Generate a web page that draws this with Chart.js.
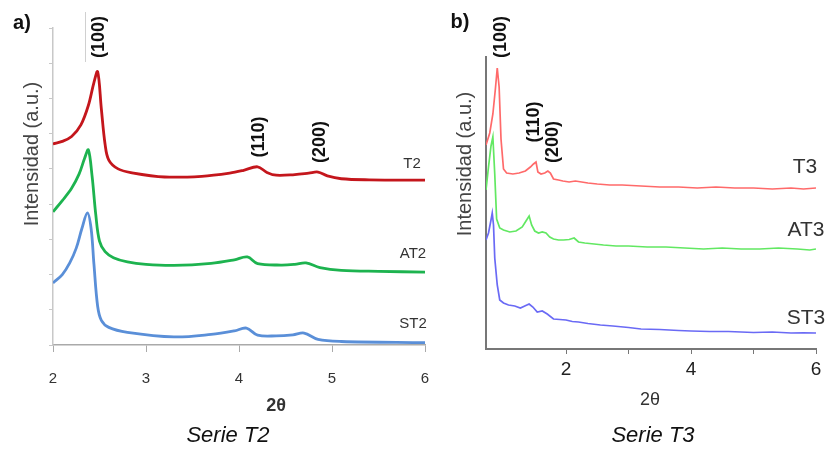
<!DOCTYPE html>
<html>
<head>
<meta charset="utf-8">
<script src="https://cdn.jsdelivr.net/npm/chart.js@4.4.0/dist/chart.umd.min.js"></script>
<style>
    body { margin: 0; background: #fff; }
    #wrap { position: relative; width: 825px; height: 450px; }
    canvas { position: absolute; top: 0; }
</style>
</head>
<body>
<div id="wrap">
    <canvas id="chartA" width="440" height="450" style="left:0;width:440px;height:450px"></canvas>
    <canvas id="chartB" width="385" height="450" style="left:440px;width:385px;height:450px"></canvas>
</div>
<script>
// ---- Serie T2 (panel a) ----
const t2X = [2.0, 2.1, 2.2, 2.3, 2.38, 2.44, 2.48, 2.52, 2.56, 2.6, 2.7, 2.85, 3.2, 3.6, 3.9, 4.05, 4.2, 4.3, 4.4, 4.6, 4.75, 4.85, 4.95, 5.1, 5.4, 6.0];
const t2Y = [5.71, 5.78, 5.92, 6.25, 6.8, 7.45, 7.76, 6.7, 5.7, 5.25, 5.0, 4.89, 4.77, 4.79, 4.88, 4.96, 5.06, 4.9, 4.82, 4.84, 4.88, 4.91, 4.8, 4.72, 4.69, 4.68];

const at2X = [2.0, 2.1, 2.2, 2.28, 2.34, 2.38, 2.42, 2.46, 2.5, 2.56, 2.65, 2.8, 3.0, 3.3, 3.7, 3.95, 4.09, 4.2, 4.45, 4.6, 4.72, 4.87, 5.1, 5.5, 6.0];
const at2Y = [3.78, 4.1, 4.45, 4.85, 5.3, 5.54, 4.8, 3.7, 2.95, 2.65, 2.48, 2.36, 2.29, 2.26, 2.32, 2.42, 2.5, 2.31, 2.27, 2.29, 2.33, 2.2, 2.12, 2.09, 2.07];

const st2X = [2.0, 2.1, 2.18, 2.25, 2.31, 2.37, 2.41, 2.44, 2.48, 2.52, 2.6, 2.8, 3.3, 3.7, 3.95, 4.08, 4.2, 4.4, 4.58, 4.7, 4.85, 5.1, 6.0];
const st2Y = [1.76, 2.0, 2.33, 2.75, 3.3, 3.75, 3.3, 2.3, 1.1, 0.7, 0.5, 0.36, 0.23, 0.3, 0.4, 0.48, 0.28, 0.26, 0.29, 0.34, 0.16, 0.1, 0.07];

// ---- Serie T3 (panel b) ----
const t3X = [0.72, 0.78, 0.83, 0.87, 0.9, 0.93, 0.96, 1.0, 1.05, 1.15, 1.25, 1.35, 1.43, 1.48, 1.52, 1.55, 1.6, 1.66, 1.71, 1.75, 1.8, 1.88, 1.95, 2.05, 2.15, 2.25, 2.35, 2.5, 2.7, 2.9, 3.2, 3.5, 3.8, 4.1, 4.4, 4.7, 5.0, 5.3, 5.6, 5.8, 6.0];
const t3Y = [20.4, 21.6, 23.5, 26.0, 28.1, 26.2, 21.0, 18.0, 17.6, 17.5, 17.6, 17.8, 18.2, 18.5, 18.7, 17.7, 17.5, 17.6, 17.8, 17.6, 17.0, 16.9, 16.8, 16.7, 16.8, 16.7, 16.6, 16.5, 16.4, 16.4, 16.3, 16.2, 16.2, 16.1, 16.2, 16.1, 16.1, 16.0, 16.1, 16.0, 16.1];

const at3X = [0.72, 0.76, 0.8, 0.83, 0.86, 0.89, 0.94, 1.0, 1.1, 1.2, 1.3, 1.36, 1.41, 1.45, 1.5, 1.56, 1.62, 1.68, 1.74, 1.8, 1.88, 1.96, 2.05, 2.13, 2.2, 2.3, 2.45, 2.6, 2.8, 3.0, 3.3, 3.6, 3.9, 4.2, 4.5, 4.8, 5.1, 5.4, 5.7, 5.9, 6.0];
const at3Y = [15.9, 18.2, 20.3, 21.2, 17.5, 13.0, 12.1, 11.9, 11.7, 11.8, 12.2, 12.8, 13.3, 12.4, 11.8, 11.6, 11.7, 11.6, 11.2, 11.0, 10.9, 10.9, 10.95, 11.1, 10.7, 10.6, 10.5, 10.4, 10.3, 10.3, 10.2, 10.2, 10.1, 10.0, 10.1, 10.0, 10.0, 10.1, 10.0, 9.9, 10.0];

const st3X = [0.72, 0.76, 0.8, 0.82, 0.84, 0.86, 0.9, 0.94, 1.0, 1.08, 1.18, 1.27, 1.34, 1.41, 1.47, 1.54, 1.62, 1.7, 1.8, 1.9, 2.0, 2.1, 2.2, 2.35, 2.55, 2.75, 3.0, 3.2, 3.5, 3.8, 4.0, 4.3, 4.6, 4.8, 5.0, 5.3, 5.6, 5.8, 6.0];
const st3Y = [10.9, 11.6, 12.9, 13.6, 12.4, 9.1, 6.4, 4.9, 4.6, 4.4, 4.3, 4.1, 4.3, 4.5, 4.2, 3.7, 3.8, 3.5, 3.0, 2.95, 2.9, 2.75, 2.7, 2.55, 2.4, 2.3, 2.15, 2.0, 1.95, 1.85, 1.8, 1.75, 1.75, 1.7, 1.65, 1.7, 1.6, 1.62, 1.6];

const narrow = '"Liberation Sans Narrow", "Liberation Sans", Arial, sans-serif';
const arial = '"Liberation Sans", Arial, sans-serif';
Chart.defaults.font.family = arial;

function pts(xs, ys) {
    return xs.map((x, i) => ({x: x, y: ys[i]}));
}

function line(label, xs, ys, color, width, tension) {
    return {
        label: label,
        data: pts(xs, ys),
        borderColor: color,
        borderWidth: width,
        pointRadius: 0,
        tension: tension,
        fill: false
    };
}

// draws the free texts (titles, peak indexes, series names)
function textPlugin(items, extra) {
    return {
        id: 'texts',
        afterDraw(chart) {
            let ctx = chart.ctx;
            if (extra) extra(ctx);
            items.forEach(t => {
                ctx.save();
                ctx.font = t.font;
                ctx.fillStyle = t.color || '#222';
                ctx.textAlign = 'center';
                ctx.textBaseline = 'middle';
                ctx.translate(t.x, t.y);
                if (t.rot) ctx.rotate(t.rot);
                ctx.fillText(t.text, 0, 0);
                ctx.restore();
            });
        }
    };
}

const up = -Math.PI / 2;

const textsA = [
    {text: 'a)', x: 22, y: 23, font: 'bold 20px ' + arial, color: '#111'},
    {text: 'Intensidad (a.u.)', x: 32, y: 154, rot: up, font: '20px ' + arial, color: '#444'},
    {text: '(100)', x: 99, y: 37, rot: up, font: 'bold 18px ' + arial, color: '#111'},
    {text: '(110)', x: 259, y: 137, rot: up, font: 'bold 18px ' + arial, color: '#111'},
    {text: '(200)', x: 320, y: 142, rot: up, font: 'bold 18px ' + arial, color: '#111'},
    {text: 'T2', x: 412, y: 164, font: '15px ' + narrow, color: '#333'},
    {text: 'AT2', x: 413, y: 254, font: '15px ' + narrow, color: '#333'},
    {text: 'ST2', x: 413, y: 324, font: '15px ' + narrow, color: '#333'},
    {text: '2θ', x: 276, y: 406, font: 'bold 18px ' + narrow, color: '#333'},
    {text: 'Serie T2', x: 228, y: 436, font: 'italic 22px ' + arial, color: '#111'}
];

const textsB = [
    {text: 'b)', x: 20, y: 22, font: 'bold 20px ' + arial, color: '#111'},
    {text: 'Intensidad (a.u.)', x: 25, y: 164, rot: up, font: '20px ' + arial, color: '#444'},
    {text: '(100)', x: 61, y: 37, rot: up, font: 'bold 18px ' + arial, color: '#111'},
    {text: '(110)', x: 94, y: 122, rot: up, font: 'bold 18px ' + arial, color: '#111'},
    {text: '(200)', x: 113, y: 142, rot: up, font: 'bold 18px ' + arial, color: '#111'},
    {text: 'T3', x: 365, y: 167, font: '21px ' + arial, color: '#333'},
    {text: 'AT3', x: 366, y: 230, font: '21px ' + arial, color: '#333'},
    {text: 'ST3', x: 366, y: 318, font: '21px ' + arial, color: '#333'},
    {text: '2θ', x: 210, y: 400, font: '18px ' + arial, color: '#333'},
    {text: 'Serie T3', x: 213, y: 436, font: 'italic 22px ' + arial, color: '#111'}
];

function markerLine(ctx) {
    ctx.save();
    ctx.strokeStyle = '#d0d0d0';
    ctx.lineWidth = 1;
    ctx.beginPath();
    ctx.moveTo(85.5, 12);
    ctx.lineTo(85.5, 62);
    ctx.stroke();
    ctx.restore();
}

new Chart(document.getElementById('chartA').getContext('2d'), {
    type: 'line',
    data: {
        datasets: [
            line('T2', t2X, t2Y, '#c4161c', 2.8, 0.35),
            line('AT2', at2X, at2Y, '#1db34f', 2.8, 0.35),
            line('ST2', st2X, st2Y, '#5a8fd8', 2.8, 0.35)
        ]
    },
    options: {
        responsive: false,
        animation: false,
        layout: {padding: {left: 0, right: 15, top: 28, bottom: 0}},
        plugins: {legend: {display: false}, tooltip: {enabled: false}},
        scales: {
            x: {
                type: 'linear',
                min: 2,
                max: 6,
                ticks: {stepSize: 1, color: '#333', font: {size: 15, family: narrow}, padding: 18},
                grid: {drawOnChartArea: false, tickLength: 7, color: '#aaa'},
                border: {color: '#aaa', width: 1.5},
                afterFit: s => { s.height = 105; s.paddingLeft = 0; s.paddingRight = 0; }
            },
            y: {
                min: 0,
                max: 9,
                ticks: {stepSize: 1, callback: () => ''},
                grid: {drawOnChartArea: false, tickLength: 4, color: '#c8c8c8'},
                border: {color: '#c8c8c8', width: 1.5},
                afterFit: s => { s.width = 53; }
            }
        }
    },
    plugins: [textPlugin(textsA, markerLine)]
});

new Chart(document.getElementById('chartB').getContext('2d'), {
    type: 'line',
    data: {
        datasets: [
            line('T3', t3X, t3Y, '#ff6a6a', 1.7, 0),
            line('AT3', at3X, at3Y, '#62e862', 1.7, 0),
            line('ST3', st3X, st3Y, '#6a6af5', 1.7, 0)
        ]
    },
    options: {
        responsive: false,
        animation: false,
        layout: {padding: {left: 0, right: 9, top: 57, bottom: 0}},
        plugins: {legend: {display: false}, tooltip: {enabled: false}},
        scales: {
            x: {
                type: 'linear',
                min: 0.72,
                max: 6,
                ticks: {
                    stepSize: 1,
                    color: '#222',
                    font: {size: 19},
                    padding: 4,
                    maxRotation: 0,
                    callback: v => (v % 2 === 0 ? v : '')
                },
                grid: {
                    drawOnChartArea: false,
                    tickLength: 5,
                    color: c => (Number.isInteger(c.tick && c.tick.value) ? '#777' : 'rgba(0,0,0,0)')
                },
                border: {color: '#777', width: 2},
                afterFit: s => { s.height = 101; s.paddingLeft = 0; s.paddingRight = 0; }
            },
            y: {
                min: 0,
                max: 29.2,
                ticks: {display: false},
                grid: {display: false},
                border: {color: '#777', width: 2},
                afterFit: s => { s.width = 46; }
            }
        }
    },
    plugins: [textPlugin(textsB)]
});
</script>
</body>
</html>
